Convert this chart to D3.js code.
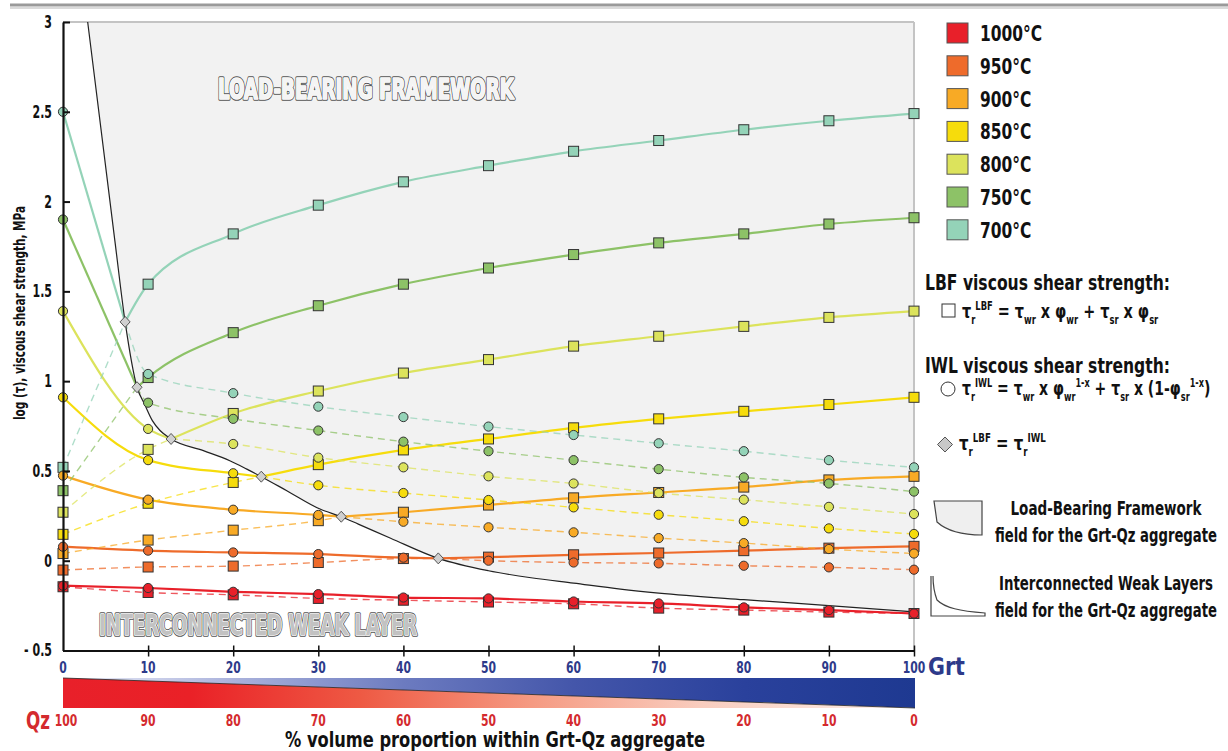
<!DOCTYPE html>
<html><head><meta charset="utf-8">
<script src="https://cdn.jsdelivr.net/npm/d3@7"></script>
<style>body{margin:0;background:#fff}svg text{white-space:pre}</style>
</head><body>
<svg id="chart" width="1228" height="751"></svg>
<script>
const FONT = '"Liberation Sans Narrow","DejaVu Sans Condensed",sans-serif';

// ---------------- DATA ----------------
const xVals = [0,10,20,30,40,50,60,70,80,90,100];
const temps = ["1000°C","950°C","900°C","850°C","800°C","750°C","700°C"];
const colors = ["#e8202a","#ee6b2b","#f8aa25","#f6dc0c","#dce35c","#8dc267","#94d3b8"];
// LBF viscous shear strength (squares)
const lbf1000 = [-0.145,-0.177,-0.19,-0.21,-0.22,-0.23,-0.24,-0.264,-0.275,-0.286,-0.294];
const lbf950  = [-0.052,-0.035,-0.03,-0.01,0.012,0.02,0.033,0.043,0.056,0.07,0.08];
const lbf900  = [0.04,0.115,0.17,0.223,0.27,0.31,0.35,0.38,0.41,0.45,0.47];
const lbf850  = [0.147,0.32,0.436,0.535,0.617,0.678,0.74,0.79,0.832,0.87,0.91];
const lbf800  = [0.27,0.62,0.82,0.945,1.045,1.12,1.195,1.25,1.305,1.355,1.39];
const lbf750  = [0.39,1.02,1.27,1.42,1.54,1.63,1.705,1.77,1.82,1.875,1.91];
const lbf700  = [0.52,1.54,1.82,1.98,2.11,2.20,2.28,2.34,2.40,2.45,2.49];
// IWL viscous shear strength (circles)
const iwl1000 = [-0.139,-0.152,-0.173,-0.186,-0.205,-0.21,-0.227,-0.238,-0.26,-0.275,-0.294];
const iwl950  = [0.078,0.056,0.046,0.037,0.017,0.0,-0.01,-0.015,-0.028,-0.037,-0.05];
const iwl900  = [0.474,0.34,0.284,0.255,0.217,0.186,0.158,0.126,0.098,0.065,0.04];
const iwl850  = [0.91,0.56,0.487,0.42,0.377,0.338,0.297,0.256,0.22,0.18,0.149];
const iwl800  = [1.39,0.734,0.65,0.574,0.52,0.47,0.43,0.377,0.34,0.30,0.26];
const iwl750  = [1.90,0.88,0.79,0.725,0.663,0.61,0.56,0.51,0.464,0.43,0.385];
const iwl700  = [2.5,1.04,0.933,0.858,0.80,0.747,0.70,0.654,0.61,0.56,0.52];
// intersections tau_LBF = tau_IWL (null = none)
const crossings = [null,[44.1,0.013],[32.7,0.245],[23.3,0.468],[12.7,0.678],[8.7,0.966],[7.3,1.33]];
// LBF / IWL boundary
const boundary = [[2.9,3],[6.1,1.78],[7.3,1.33],[8.7,0.966],[9.6,0.87],[10.5,0.78],[11.4,0.725],[12.7,0.678],
  [16.5,0.613],[19.6,0.557],[21.6,0.51],[23.3,0.468],[26.3,0.39],[30.2,0.288],[32.7,0.245],[34.7,0.204],
  [38.5,0.125],[44.1,0.013],[50,-0.056],[55,-0.095],[60,-0.125],
  [65.5,-0.158],[70,-0.18],[80,-0.217],[90,-0.25],[100,-0.285]];
const yTicks = [-0.5,0,0.5,1,1.5,2,2.5,3];
const yTickLabels = ["- 0.5","0","0.5","1","1.5","2","2.5","3"];
const grtLabels = ["0","10","20","30","40","50","60","70","80","90","100"];
const qzLabels = ["100","90","80","70","60","50","40","30","20","10","0"];

const lbfSeries = [lbf1000,lbf950,lbf900,lbf850,lbf800,lbf750,lbf700];
const iwlSeries = [iwl1000,iwl950,iwl900,iwl850,iwl800,iwl750,iwl700];

// ---------------- HELPERS ----------------
function squeeze(sel, f){
  sel.each(function(){
    const w = this.getComputedTextLength();
    d3.select(this).attr("textLength", w*f).attr("lengthAdjust","spacingAndGlyphs");
  });
  return sel;
}
function fitW(sel, w){
  sel.attr("textLength", w).attr("lengthAdjust","spacingAndGlyphs");
  return sel;
}

// ---------------- CHART ----------------
const svg = d3.select("#chart").style("font-family", FONT);
const x = d3.scaleLinear().domain([0,100]).range([63,914]);
const y = d3.scaleLinear().domain([-0.5,3]).range([650.5,22]);

// top double rule
svg.append("rect").attr("x",10).attr("y",3.5).attr("width",1218).attr("height",3).attr("fill","#9a9a9a");
svg.append("line").attr("x1",10).attr("x2",1228).attr("y1",8).attr("y2",8).attr("stroke","#b5b5b5").attr("stroke-width",1);

// LBF field
const bLine = d3.line().x(d=>x(d[0])).y(d=>y(d[1])).curve(d3.curveMonotoneX);
svg.append("path").attr("d", bLine(boundary) + `L${x(100)},${y(3)}Z`).attr("fill","#f2f2f2");
svg.append("line").attr("x1",x(0)).attr("x2",x(100)).attr("y1",y(3)).attr("y2",y(3)).attr("stroke","#c4c4c4").attr("stroke-width",2);
svg.append("line").attr("x1",x(100)).attr("x2",x(100)).attr("y1",y(3)).attr("y2",y(-0.5)).attr("stroke","#c4c4c4").attr("stroke-width",2);

// field labels
function outlined(txt, cx, by, len, fill){
  const g = svg.append("g");
  [["#555",3.6],["#fff",1.6]].forEach(([c,w])=>{
    g.append("text").attr("x",cx).attr("y",by).attr("text-anchor","middle")
      .attr("textLength",len).attr("lengthAdjust","spacingAndGlyphs")
      .style("font-size","29px").style("font-weight","bold")
      .attr("fill",c).attr("stroke",c).attr("stroke-width",w).attr("stroke-linejoin","round").text(txt);
  });
  g.append("text").attr("x",cx).attr("y",by).attr("text-anchor","middle")
    .attr("textLength",len).attr("lengthAdjust","spacingAndGlyphs")
    .style("font-size","29px").style("font-weight","bold").attr("fill",fill).text(txt);
}
outlined("LOAD-BEARING FRAMEWORK", 366, 99, 296, "#f4f4f4");
outlined("INTERCONNECTED WEAK LAYER", 258, 635, 318, "#c2c2c2");

// lines
const line = d3.line().x(d=>x(d[0])).y(d=>y(d[1])).curve(d3.curveMonotoneX);
const gLines = svg.append("g");
temps.forEach((t,i)=>{
  const L = xVals.map((v,k)=>[v,lbfSeries[i][k]]);
  const I = xVals.map((v,k)=>[v,iwlSeries[i][k]]);
  const c = crossings[i];
  let solid1, solid2, dash1, dash2;
  if(c){
    solid1 = I.filter(p=>p[0]<c[0]).concat([c]);
    solid2 = [c].concat(L.filter(p=>p[0]>c[0]));
    dash1 = L.filter(p=>p[0]<c[0]).concat([c]);
    dash2 = [c].concat(I.filter(p=>p[0]>c[0]));
  } else { solid1 = I; solid2 = null; dash1 = L; dash2 = null; }
  [dash1,dash2].forEach(s=>{ if(s) gLines.append("path").attr("d",line(s)).attr("fill","none")
      .attr("stroke",colors[i]).attr("stroke-width",1.4).attr("stroke-dasharray","7,5").attr("opacity",0.75); });
  [solid1,solid2].forEach(s=>{ if(s) gLines.append("path").attr("d",line(s)).attr("fill","none")
      .attr("stroke",colors[i]).attr("stroke-width",2.2); });
});
// boundary line
svg.append("path").attr("d",bLine(boundary)).attr("fill","none").attr("stroke","#222").attr("stroke-width",1.2);

// markers: squares, then circles, then diamonds
const gM = svg.append("g");
temps.forEach((t,i)=>{
  gM.selectAll(null).data(xVals.map((v,k)=>[v,lbfSeries[i][k]])).enter().append("rect")
    .attr("x",d=>x(d[0])-5).attr("y",d=>y(d[1])-5).attr("width",10).attr("height",10)
    .attr("fill",colors[i]).attr("stroke","#333").attr("stroke-width",1);
});
temps.forEach((t,i)=>{
  gM.selectAll(null).data(xVals.map((v,k)=>[v,iwlSeries[i][k]])).enter().append("circle")
    .attr("cx",d=>x(d[0])).attr("cy",d=>y(d[1])).attr("r",4.6)
    .attr("fill",colors[i]).attr("stroke","#333").attr("stroke-width",1);
});
gM.selectAll(null).data(crossings.filter(c=>c)).enter().append("path")
  .attr("d",d=>`M${x(d[0])},${y(d[1])-5.5}l5,5.5l-5,5.5l-5,-5.5Z`)
  .attr("fill","#d0d0d0").attr("stroke","#555").attr("stroke-width",1);

// axes
const yAxis = svg.append("g").attr("transform",`translate(${x(0)},0)`)
  .call(d3.axisLeft(y).tickValues(yTicks).tickSizeInner(-7).tickSizeOuter(0).tickPadding(11)
    .tickFormat((d,k)=>yTickLabels[k]));
yAxis.select(".domain").attr("stroke","#111").attr("stroke-width",2.2);
yAxis.selectAll(".tick line").attr("stroke","#111").attr("stroke-width",2);
squeeze(yAxis.selectAll(".tick text").style("font-family",FONT).style("font-size","17px").style("font-weight","bold").attr("fill","#111"), 0.72);

const xAxis = svg.append("g").attr("transform",`translate(0,${y(-0.5)})`)
  .call(d3.axisBottom(x).tickValues(xVals.slice(1)).tickSizeInner(6).tickSizeOuter(0).tickFormat(""));
xAxis.select(".domain").attr("stroke","#111").attr("stroke-width",2.2);
xAxis.selectAll(".tick line").attr("y1",-5).attr("stroke","#111").attr("stroke-width",1.5);

// Grt labels
squeeze(svg.append("g").selectAll("text").data(xVals).enter().append("text")
  .attr("x",d=>x(d)).attr("y",673).attr("text-anchor","middle")
  .style("font-size","15px").style("font-weight","bold").attr("fill","#2d3a8a").text((d,k)=>grtLabels[k]), 0.8);
fitW(svg.append("text").attr("x",928).attr("y",675).style("font-size","24px").style("font-weight","bold").attr("fill","#2d3a8a").text("Grt"), 37);

// gradient bar
const defs = svg.append("defs");
const bg = defs.append("linearGradient").attr("id","blueG").attr("x1","0").attr("x2","1").attr("y1","0").attr("y2","0");
[[0,"#eef0f9"],[0.2,"#aab2dc"],[0.4,"#6c7bc0"],[0.6,"#4456aa"],[0.8,"#2a419c"],[1,"#1e3991"]]
  .forEach(s=>bg.append("stop").attr("offset",s[0]).attr("stop-color",s[1]));
const rg = defs.append("linearGradient").attr("id","redG").attr("x1","0").attr("x2","1").attr("y1","0").attr("y2","0");
[[0,"#e8202a"],[0.15,"#ea2127"],[0.35,"#ee5a44"],[0.55,"#f59a82"],[0.75,"#f9cdbf"],[1,"#fdf0ea"]]
  .forEach(s=>rg.append("stop").attr("offset",s[0]).attr("stop-color",s[1]));
const bx0 = x(0), bx1 = x(100)+1, by0 = 678, by1 = 708;
svg.append("path").attr("d",`M${bx0},${by0}L${bx1},${by0}L${bx1},${by1}Z`).attr("fill","url(#blueG)");
svg.append("path").attr("d",`M${bx0},${by0}L${bx1},${by1}L${bx0},${by1}Z`).attr("fill","url(#redG)");
svg.append("line").attr("x1",bx0).attr("y1",by0).attr("x2",bx1).attr("y2",by1).attr("stroke","#222").attr("stroke-width",0.8);

// Qz labels
squeeze(svg.append("g").selectAll("text").data(xVals).enter().append("text")
  .attr("x",d=>x(d)+(d===0?3:0)).attr("y",726).attr("text-anchor","middle")
  .style("font-size","15px").style("font-weight","bold").attr("fill","#d42a2e").text((d,k)=>qzLabels[k]), 0.8);
fitW(svg.append("text").attr("x",26).attr("y",729).style("font-size","25px").style("font-weight","bold").attr("fill","#d42a2e").text("Qz"), 24);

// axis titles
fitW(svg.append("text").attr("x",495).attr("y",747).attr("text-anchor","middle")
  .style("font-size","22px").style("font-weight","bold").attr("fill","#111").text("% volume proportion within Grt-Qz aggregate"), 420);
fitW(svg.append("text").attr("transform","translate(25,313) rotate(-90)").attr("text-anchor","middle")
  .style("font-size","15px").style("font-weight","bold").attr("fill","#111").text("log (τ), viscous shear strength, MPa"), 214);

// legend
const leg = svg.append("g");
temps.forEach((t,i)=>{
  const yy = 23 + i*32.8;
  leg.append("rect").attr("x",947).attr("y",yy).attr("width",21).attr("height",20)
    .attr("fill",colors[i]).attr("stroke","#555").attr("stroke-width",1);
  squeeze(leg.append("text").attr("x",980).attr("y",yy+18).style("font-size","22px").style("font-weight","bold").attr("fill","#111").text(t), 0.78);
});

// formulas
function formula(x0, yb, segs, size, f){
  const g = svg.append("g").attr("transform",`translate(${x0},${yb}) scale(${f},1)`);
  const t = g.append("text").attr("x",0).attr("y",0).style("font-size",size+"px").style("font-weight","bold").attr("fill","#111");
  let cur = 0;
  segs.forEach(s=>{
    const target = s[1]==="sub" ? size*0.32 : s[1]==="sup" ? -size*0.42 : 0;
    t.append("tspan").attr("dy",target-cur).style("font-size",(s[1]?size*0.58:size)+"px").text(s[0]);
    cur = target;
  });
}
fitW(svg.append("text").attr("x",925).attr("y",290).style("font-size","21px").style("font-weight","bold").attr("fill","#111").text("LBF viscous shear strength:"), 245);
svg.append("rect").attr("x",942).attr("y",304).attr("width",13).attr("height",13).attr("fill","#fff").attr("stroke","#333").attr("stroke-width",1);
formula(962,318,[["τ"],["r","sub"],["LBF","sup"],[" = τ"],["wr","sub"],[" x φ"],["wr","sub"],[" + τ"],["sr","sub"],[" x φ"],["sr","sub"]],20,0.8);
fitW(svg.append("text").attr("x",925).attr("y",373).style("font-size","21px").style("font-weight","bold").attr("fill","#111").text("IWL viscous shear strength:"), 245);
svg.append("circle").attr("cx",948).attr("cy",389).attr("r",7).attr("fill","#fff").attr("stroke","#333").attr("stroke-width",1);
formula(962,395,[["τ"],["r","sub"],["IWL","sup"],[" = τ"],["wr","sub"],[" x φ"],["wr","sub"],["1-x","sup"],[" + τ"],["sr","sub"],[" x (1-φ"],["sr","sub"],["1-x","sup"],[")"]],20,0.78);
svg.append("path").attr("d","M945,437l7.5,7.5l-7.5,7.5l-7.5,-7.5Z").attr("fill","#c8c8c8").attr("stroke","#555").attr("stroke-width",1);
formula(959,450,[["τ"],["r","sub"],["LBF","sup"],[" = τ"],["r","sub"],["IWL","sup"]],20,0.83);

// field legends
svg.append("path").attr("d","M934,501L982,501L982,535C965,535 948,532 937,522Z").attr("fill","#efefef").attr("stroke","#444").attr("stroke-width",1.2);
svg.append("path").attr("d","M931,576L931,616L985,616L985,613C960,611 945,608 937,600C934,592 933,584 933,576").attr("fill","none").attr("stroke","#444").attr("stroke-width",1.2);
[["Load-Bearing Framework",515,191],["field for the Grt-Qz aggregate",542,222],["Interconnected Weak Layers",590,214],["field for the Grt-Qz aggregate",617,222]]
  .forEach(d=>fitW(svg.append("text").attr("x",1106).attr("y",d[1]).attr("text-anchor","middle")
    .style("font-size","19px").style("font-weight","bold").attr("fill","#111").text(d[0]), d[2]));
</script>
</body></html>
